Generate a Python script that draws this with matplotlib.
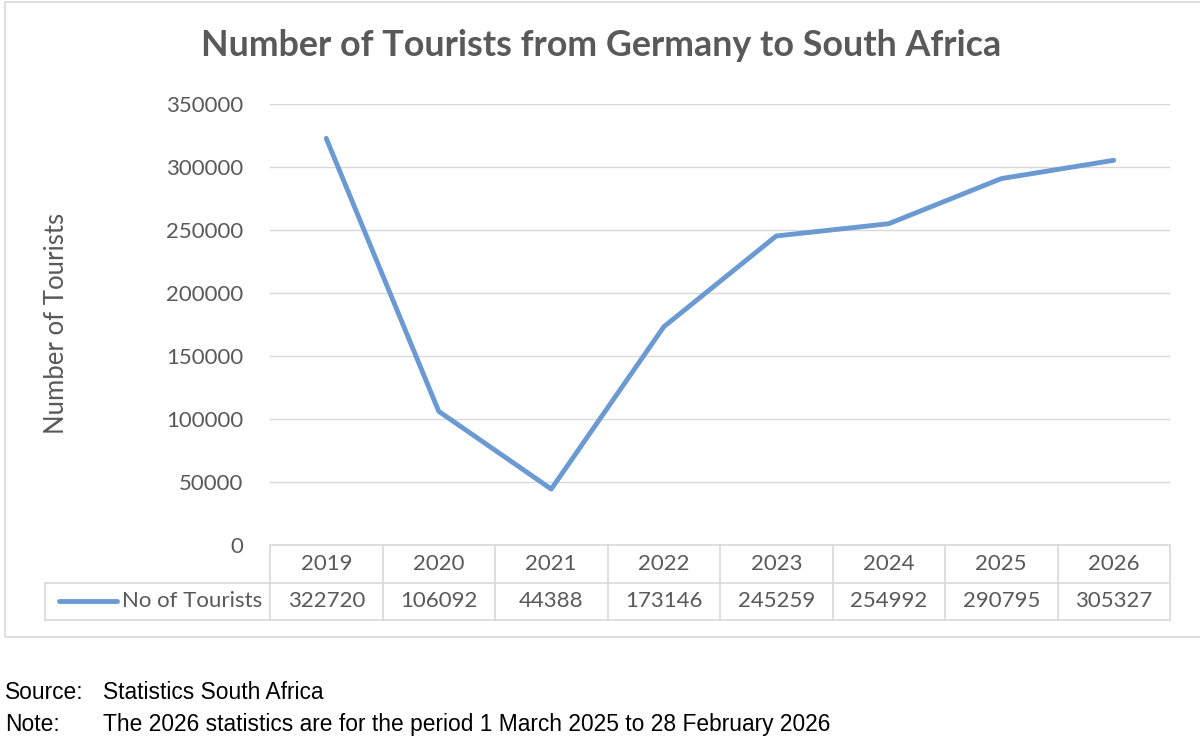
import matplotlib
matplotlib.use('Agg')
import matplotlib.pyplot as plt
from matplotlib.patches import Rectangle
from matplotlib.lines import Line2D
import matplotlib.transforms as mtransforms

years = ['2019', '2020', '2021', '2022', '2023', '2024', '2025', '2026']
tourists = [322720, 106092, 44388, 173146, 245259, 254992, 290795, 305327]
yticks = [0, 50000, 100000, 150000, 200000, 250000, 300000, 350000]
series_name = 'No of Tourists'

grey = '#595959'
grid = '#D9D9D9'
blue = '#6B9AD2'
W, H = 1200, 752

plt.rcParams['font.family'] = ['Lato', 'DejaVu Sans']

fig = plt.figure(figsize=(W / 100, H / 100), dpi=100)
fig.patch.set_facecolor('white')

# outer chart frame
fig.add_artist(Rectangle((5 / W, 1 - 637 / H), 1.2, 635 / H, transform=fig.transFigure,
                         fill=False, edgecolor=grid, lw=1.2))

ax = fig.add_axes([270 / W, 1 - 545 / H, 900 / W, 441 / H])
x = list(range(len(years)))
ax.plot(x, tourists, color=blue, lw=3.5, solid_capstyle='round', solid_joinstyle='round', zorder=3)
ax.set_xlim(-0.5, len(years) - 0.5)
ax.set_ylim(0, 350000)
ax.set_yticks(yticks)
ax.set_yticklabels([str(v) for v in yticks])
ax.set_xticks([])
ax.tick_params(axis='y', length=0, pad=19, labelsize=16, labelcolor=grey)
ax.grid(axis='y', color=grid, lw=1)
ax.set_axisbelow(True)
for s in ax.spines.values():
    s.set_visible(False)

fig.text(57 / W, 1 - 323 / H, 'Number of Tourists', rotation=90, ha='center', va='center',
         fontsize=18.5, color=grey)
fig.text(0.501, 1 - 46 / H, 'Number of Tourists from Germany to South Africa',
         ha='center', va='center', fontsize=25.8, fontweight='bold', color=grey)

# data table below the plot
tr = mtransforms.blended_transform_factory(ax.transData, ax.transAxes)
h = 37.5 / 441
n = len(years)
lkw = dict(color=grid, lw=1.2, transform=tr, clip_on=False)
ax.add_line(Line2D([-0.5, n - 0.5], [0, 0], **lkw))
ax.add_line(Line2D([-2.5, n - 0.5], [-h, -h], **lkw))
ax.add_line(Line2D([-2.5, n - 0.5], [-2 * h, -2 * h], **lkw))
for i in range(n + 1):
    ax.add_line(Line2D([i - 0.5, i - 0.5], [0, -2 * h], **lkw))
ax.add_line(Line2D([-2.5, -2.5], [-h, -2 * h], **lkw))
for i, (yr, v) in enumerate(zip(years, tourists)):
    ax.text(i, -0.5 * h, yr, transform=tr, ha='center', va='center', fontsize=16, color=grey)
    ax.text(i, -1.5 * h, str(v), transform=tr, ha='center', va='center', fontsize=16, color=grey)
ax.add_line(Line2D([-2.38, -1.86], [-1.5 * h, -1.5 * h], color=blue, lw=3.5,
                   solid_capstyle='round', transform=tr, clip_on=False))
ax.text(-0.57, -1.5 * h, series_name, transform=tr, ha='right', va='center', fontsize=16, color=grey)

nfont = ['Liberation Sans Narrow', 'Liberation Sans', 'DejaVu Sans']
fkw = dict(ha='left', va='baseline', fontsize=16.4, family=nfont, color='black')
fig.text(5 / W, 1 - 699 / H, 'Source:', **fkw)
fig.text(103 / W, 1 - 699 / H, 'Statistics South Africa', **fkw)
fig.text(5 / W, 1 - 731 / H, 'Note:', **fkw)
fig.text(103 / W, 1 - 731 / H, 'The 2026 statistics are for the period 1 March 2025 to 28 February 2026', **fkw)

fig.savefig('out.png', dpi=100)
